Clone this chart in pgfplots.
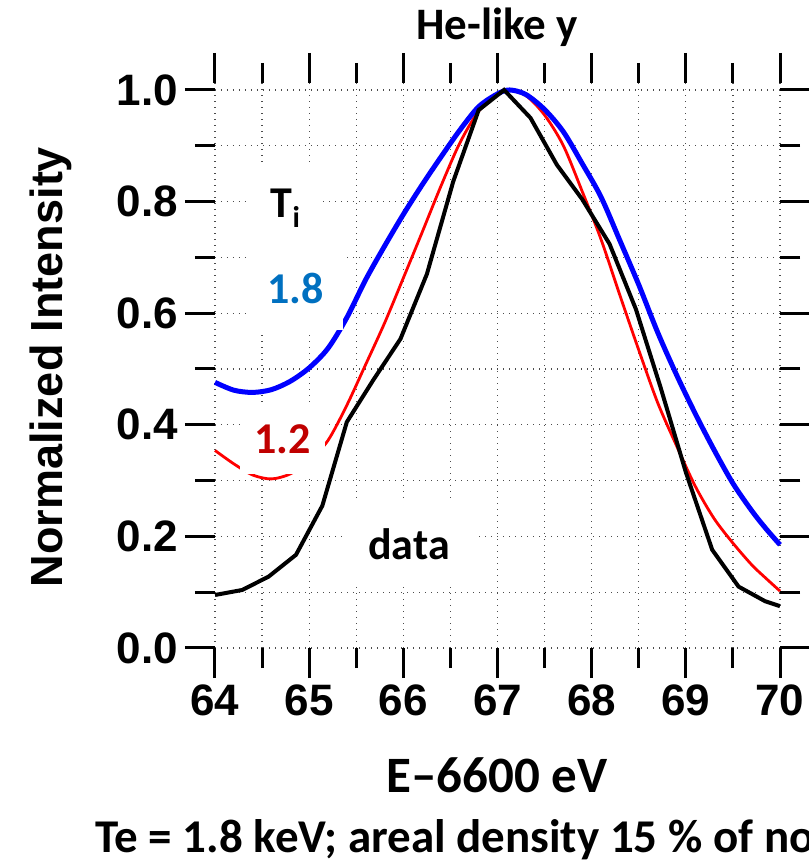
\documentclass[border=0pt]{standalone}
\usepackage{pgfplots}
\pgfplotsset{compat=1.18}
\usepackage{fontspec}
\setmainfont{Carlito}
\newfontfamily\lsans{Liberation Sans}
\definecolor{lblue}{HTML}{0070C0}
\definecolor{dred}{HTML}{C00000}
\begin{document}
\begin{tikzpicture}
\path[use as bounding box] (-107.5pt,-108.5pt) rectangle (296.5pt,324pt);
\begin{axis}[
  scale only axis, width=282.5pt, height=282.5pt,
  at={(0pt,0pt)}, anchor=south west,
  xmin=64, xmax=70, ymin=0, ymax=1.0125,
  axis line style={draw=none},
  xtick={64,65,66,67,68,69,70},
  ytick={0,0.2,0.4,0.6,0.8,1},
  yticklabels={0.0,0.2,0.4,0.6,0.8,1.0},
  minor x tick num=1, minor y tick num=1,
  tick align=outside,
  major tick length=15pt, minor tick length=10pt,
  every tick/.style={black, line width=1.5pt},
  grid=both,
  major grid style={black!70, line width=0.6pt, dash pattern=on 0.6pt off 2.4pt},
  minor grid style={black!70, line width=0.6pt, dash pattern=on 0.6pt off 2.4pt},
  ticklabel style={font=\lsans\bfseries\fontsize{22}{22}\selectfont},
  /pgf/number format/assume math mode=true,
  clip=false,
]
\addplot[red, line width=1.4pt, smooth] coordinates {
(64.0,0.354) (64.2,0.330) (64.4,0.310) (64.6,0.303) (64.8,0.312) (65.0,0.335)
(65.2,0.372) (65.4,0.435) (65.6,0.508) (65.8,0.582) (66.0,0.663) (66.2,0.745)
(66.4,0.828) (66.6,0.905) (66.8,0.962) (67.0,0.993) (67.1,1.000) (67.3,0.990)
(67.5,0.955) (67.7,0.900) (67.9,0.818) (68.1,0.732) (68.3,0.632) (68.5,0.534)
(68.7,0.440) (68.9,0.363) (69.1,0.290) (69.3,0.232) (69.5,0.188) (69.7,0.149)
(69.85,0.125) (70.0,0.102)};
\addplot[blue, line width=2.5pt, smooth] coordinates {
(64.0,0.476) (64.2,0.462) (64.4,0.458) (64.6,0.463) (64.8,0.478) (65.0,0.502)
(65.2,0.537) (65.4,0.592) (65.6,0.660) (65.8,0.720) (66.0,0.777) (66.2,0.830)
(66.4,0.880) (66.6,0.928) (66.8,0.970) (67.0,0.993) (67.13,1.000) (67.3,0.992)
(67.5,0.965) (67.7,0.925) (67.9,0.868) (68.1,0.808) (68.3,0.730) (68.5,0.651)
(68.7,0.566) (68.9,0.490) (69.1,0.420) (69.3,0.355) (69.5,0.295) (69.7,0.246)
(69.85,0.214) (70.0,0.185)};
\addplot[black, line width=2pt] coordinates {
(64.00,0.095) (64.29,0.104) (64.57,0.128) (64.86,0.167) (65.14,0.255) (65.40,0.405)
(65.68,0.480) (65.97,0.554) (66.25,0.670) (66.53,0.836) (66.80,0.964) (67.07,1.000)
(67.35,0.950) (67.63,0.866) (67.90,0.804) (68.19,0.724) (68.47,0.607) (68.73,0.468)
(69.00,0.315) (69.28,0.176) (69.56,0.110) (69.84,0.084) (70.00,0.075)};
\end{axis}
\node[fill=white, inner sep=0pt, minimum width=37.5pt, minimum height=41pt,
  font=\bfseries\fontsize{22}{22}\selectfont] at (35.25pt,220pt)
  {T\raisebox{-5pt}{\fontsize{15}{15}\selectfont i}};
\node[fill=white, inner sep=0pt, minimum width=47.5pt, minimum height=42.5pt,
  text=lblue, font=\bfseries\fontsize{22}{22}\selectfont] at (40.25pt,180pt) {1.8};
\node[fill=white, inner sep=0pt, minimum width=42.5pt, minimum height=35pt,
  text=dred, font=\bfseries\fontsize{22}{22}\selectfont] at (33.75pt,104.5pt) {1.2};
\node[fill=white, inner sep=0pt, minimum width=66pt, minimum height=40.5pt,
  font=\bfseries\fontsize{22}{22}\selectfont] at (97pt,52pt) {data};
\node[anchor=base, font=\bfseries\fontsize{22.5}{22.5}\selectfont] at (141pt,304pt) {He-like y};
\node[anchor=base, font=\bfseries\fontsize{25.5}{25.5}\selectfont] at (141pt,-72pt) {E\textendash 6600 eV};
\node[anchor=base west, inner sep=0pt, font=\bfseries\fontsize{23.5}{23.5}\selectfont] at (-60pt,-102pt)
  {Te = 1.8 keV; areal density 15 \% of nominal};
\node[anchor=base, rotate=90, font=\lsans\bfseries\fontsize{22.5}{22.5}\selectfont] at (-76pt,140.5pt)
  {Normalized Intensity};
\end{tikzpicture}
\end{document}
